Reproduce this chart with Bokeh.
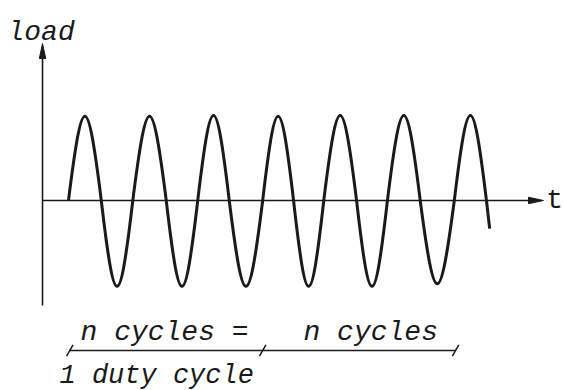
from bokeh.plotting import figure
from bokeh.models import ColumnDataSource
from bokeh.core.properties import value
from bokeh.embed import file_html
from bokeh.resources import INLINE

# ---- data (t in cycles, load in amplitude units) ----
crossings_t = [0.00, 0.51, 1.00, 1.52, 2.01, 2.50, 3.02, 3.50, 3.97, 4.48, 4.96, 5.47, 6.00, 6.50]
extremes = [0.99, -1.01, 0.99, -1.01, 1.00, -1.01, 0.99, -1.01, 1.00, -1.01, 1.00, -0.98, 1.00]
tail_t = [6.50, 6.55]
tail_load = [0.00, -0.33]
duty_marks_t = [0.02, 3.02, 6.02]
labels = ["n cycles =", "n cycles", "1 duty cycle"]

# ---- layout constants ----
W, H = 564, 390
X0, X1 = -1.0575, 7.7138
Y0, Y1 = -2.2353, 2.3529
PXT = W / (X1 - X0)
PXL = H / (Y1 - Y0)
INK = "#1a1a1a"
FONT = value("Liberation Mono")

p = figure(width=W, height=H, x_range=(X0, X1), y_range=(Y0, Y1),
           output_backend="svg", toolbar_location=None,
           x_axis_type=None, y_axis_type=None, min_border=0)
p.grid.visible = False
p.outline_line_color = None
p.background_fill_color = "white"
p.border_fill_color = "white"

# ---- axes ----
yax_t = -0.404
yax_bot, yax_top = -1.235, 1.847
xax_end = 7.387
p.segment(x0=[yax_t], y0=[yax_bot], x1=[yax_t], y1=[yax_top - 8 / PXL],
          line_color=INK, line_width=1.6)
p.segment(x0=[yax_t], y0=[0], x1=[xax_end - 8 / PXT], y1=[0],
          line_color=INK, line_width=1.6)
# arrow heads
hl, hw = 15, 3.2
p.patch(x=[yax_t - hw / PXT, yax_t, yax_t + hw / PXT],
        y=[yax_top - hl / PXL, yax_top, yax_top - hl / PXL],
        fill_color=INK, line_color=INK, line_width=1)
p.patch(x=[xax_end - hl / PXT, xax_end, xax_end - hl / PXT],
        y=[hw / PXL, 0, -hw / PXL],
        fill_color=INK, line_color=INK, line_width=1)

# ---- sinusoidal load: one bezier per half cycle ----
k = 0.4244
c = 4.0 / 3.0
x0s, x1s, cx0s, cx1s, ys, cys = [], [], [], [], [], []
for i, h in enumerate(extremes):
    a, b = crossings_t[i], crossings_t[i + 1]
    w = b - a
    x0s.append(a); x1s.append(b)
    cx0s.append(a + k * w); cx1s.append(b - k * w)
    ys.append(0.0); cys.append(c * h)
src = ColumnDataSource(dict(x0=x0s, y0=ys, x1=x1s, y1=ys, cx0=cx0s, cy0=cys, cx1=cx1s, cy1=cys))
p.bezier(x0="x0", y0="y0", x1="x1", y1="y1", cx0="cx0", cy0="cy0", cx1="cx1", cy1="cy1",
         source=src, line_color=INK, line_width=3)
p.line(x=tail_t, y=tail_load, line_color=INK, line_width=3)

# ---- duty cycle dimension line ----
duty_y = -1.765
p.segment(x0=[duty_marks_t[0]], y0=[duty_y], x1=[duty_marks_t[-1]], y1=[duty_y],
          line_color=INK, line_width=1.5)
p.scatter(x=duty_marks_t, y=[duty_y] * len(duty_marks_t), marker="dash", size=13,
          angle=1.05, line_color=INK, line_width=1.5)

# ---- texts ----
txt = dict(text_font=FONT, text_font_size="28px", text_color=INK,
           text_baseline="alphabetic")
p.text(x=[-0.949], y=[1.976], text=["load"], text_font_style="italic",
       text_align="left", **txt)
p.text(x=[0.187, 3.655], y=[-1.553, -1.553], text=labels[:2],
       text_font_style="italic", text_align="left", **txt)
p.text(x=[-0.14], y=[-2.06], text=[labels[2]], text_font_style="italic",
       text_align="left", text_font_size="27px", text_font=FONT, text_color=INK,
       text_baseline="alphabetic")
p.text(x=[7.69], y=[0.0], text=["t"], text_font_style="normal",
       text_align="right", **txt)

open("out.html", "w").write(file_html(p, INLINE))
